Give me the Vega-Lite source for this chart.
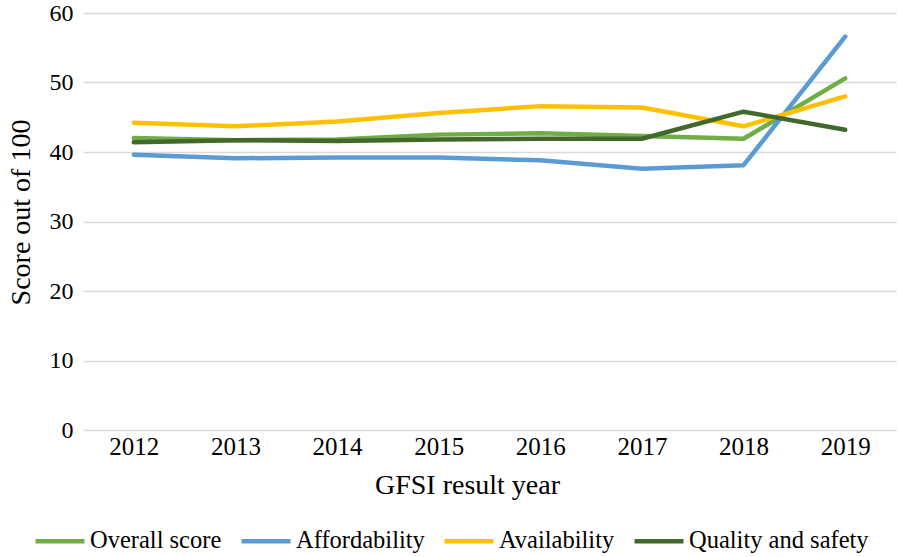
{
  "$schema": "https://vega.github.io/schema/vega-lite/v6.json",
  "autosize": "none",
  "width": 813,
  "height": 417,
  "padding": {"left": 83, "top": 13, "right": 2, "bottom": 127},
  "background": "white",
  "config": {
    "view": {"stroke": null},
    "font": "Liberation Serif",
    "axis": {"labelFont": "Liberation Serif", "titleFont": "Liberation Serif"},
    "legend": {"labelFont": "Liberation Serif", "titleFont": "Liberation Serif"}
  },
  "data": {
    "values": [
      {"year": "2012", "series": "Overall score", "score": 42.0},
      {"year": "2013", "series": "Overall score", "score": 41.7},
      {"year": "2014", "series": "Overall score", "score": 41.8},
      {"year": "2015", "series": "Overall score", "score": 42.5},
      {"year": "2016", "series": "Overall score", "score": 42.7},
      {"year": "2017", "series": "Overall score", "score": 42.3},
      {"year": "2018", "series": "Overall score", "score": 41.9},
      {"year": "2019", "series": "Overall score", "score": 50.6},
      {"year": "2012", "series": "Affordability", "score": 39.6},
      {"year": "2013", "series": "Affordability", "score": 39.1},
      {"year": "2014", "series": "Affordability", "score": 39.2},
      {"year": "2015", "series": "Affordability", "score": 39.2},
      {"year": "2016", "series": "Affordability", "score": 38.8},
      {"year": "2017", "series": "Affordability", "score": 37.6},
      {"year": "2018", "series": "Affordability", "score": 38.1},
      {"year": "2019", "series": "Affordability", "score": 56.6},
      {"year": "2012", "series": "Availability", "score": 44.2},
      {"year": "2013", "series": "Availability", "score": 43.7},
      {"year": "2014", "series": "Availability", "score": 44.4},
      {"year": "2015", "series": "Availability", "score": 45.6},
      {"year": "2016", "series": "Availability", "score": 46.6},
      {"year": "2017", "series": "Availability", "score": 46.4},
      {"year": "2018", "series": "Availability", "score": 43.7},
      {"year": "2019", "series": "Availability", "score": 48.0},
      {"year": "2012", "series": "Quality and safety", "score": 41.4},
      {"year": "2013", "series": "Quality and safety", "score": 41.7},
      {"year": "2014", "series": "Quality and safety", "score": 41.6},
      {"year": "2015", "series": "Quality and safety", "score": 41.8},
      {"year": "2016", "series": "Quality and safety", "score": 41.9},
      {"year": "2017", "series": "Quality and safety", "score": 41.9},
      {"year": "2018", "series": "Quality and safety", "score": 45.8},
      {"year": "2019", "series": "Quality and safety", "score": 43.2}
    ]
  },
  "mark": {"type": "line", "strokeWidth": 4.5, "strokeCap": "round", "strokeJoin": "round"},
  "encoding": {
    "x": {
      "field": "year",
      "type": "ordinal",
      "scale": {"type": "point", "padding": 0.5},
      "axis": {
        "title": "GFSI result year",
        "titleFont": "Liberation Serif",
        "labelFont": "Liberation Serif",
        "titleFontSize": 28,
        "titleFontWeight": "normal",
        "titleColor": "#000000",
        "titlePadding": 12,
        "titleX": 384,
        "labelFontSize": 25,
        "labelColor": "#000000",
        "labelAngle": 0,
        "labelPadding": 4,
        "ticks": false,
        "domain": false,
        "grid": false
      }
    },
    "y": {
      "field": "score",
      "type": "quantitative",
      "scale": {"domain": [0, 60], "nice": false},
      "axis": {
        "title": "Score out of 100",
        "titleFont": "Liberation Serif",
        "labelFont": "Liberation Serif",
        "titleFontSize": 28,
        "titleFontWeight": "normal",
        "titleColor": "#000000",
        "titlePadding": 14,
        "titleY": 199,
        "labelFontSize": 24,
        "labelColor": "#000000",
        "labelPadding": 10,
        "values": [0, 10, 20, 30, 40, 50, 60],
        "ticks": false,
        "domain": false,
        "grid": true,
        "gridColor": "#d9d9d9",
        "gridWidth": 1.5
      }
    },
    "color": {
      "field": "series",
      "type": "nominal",
      "sort": ["Overall score", "Affordability", "Availability", "Quality and safety"],
      "scale": {
        "domain": ["Overall score", "Affordability", "Availability", "Quality and safety"],
        "range": ["#70AD47", "#5B9BD5", "#FFC000", "#43682B"]
      },
      "legend": {
        "title": null,
        "orient": "none",
        "legendX": -50,
        "legendY": 501,
        "direction": "horizontal",
        "symbolType": "stroke",
        "symbolSize": 2401,
        "symbolStrokeWidth": 4.5,
        "labelFont": "Liberation Serif",
        "labelFontSize": 24.5,
        "labelColor": "#000000",
        "labelOffset": 3,
        "columnPadding": 10,
        "labelLimit": 300
      }
    }
  }
}
